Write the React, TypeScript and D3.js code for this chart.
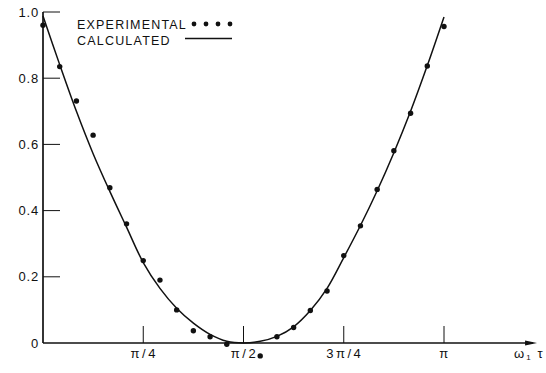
import * as d3 from "d3";

// x values are in units of pi, y is the normalised signal
const expX = [0, 1 / 24, 2 / 24, 3 / 24, 4 / 24, 5 / 24, 6 / 24, 7 / 24, 8 / 24, 9 / 24, 10 / 24, 11 / 24,
    13 / 24, 14 / 24, 15 / 24, 16 / 24, 17 / 24, 18 / 24, 19 / 24, 20 / 24, 21 / 24, 22 / 24, 23 / 24, 1];
const expY = [0.960, 0.835, 0.731, 0.628, 0.469, 0.360, 0.249, 0.190, 0.100, 0.037, 0.019, -0.004,
    -0.039, 0.019, 0.047, 0.098, 0.157, 0.264, 0.354, 0.464, 0.581, 0.694, 0.837, 0.956];

const calcX = [0, 1 / 24, 2 / 24, 3 / 24, 4 / 24, 5 / 24, 6 / 24, 7 / 24, 8 / 24, 9 / 24, 10 / 24, 11 / 24, 12 / 24,
    13 / 24, 14 / 24, 15 / 24, 16 / 24, 17 / 24, 18 / 24, 19 / 24, 20 / 24, 21 / 24, 22 / 24, 23 / 24, 1];
const calcY = [0.988, 0.841, 0.700, 0.572, 0.458, 0.350, 0.243, 0.165, 0.105, 0.060, 0.026, 0.005, 0.0,
    0.005, 0.020, 0.049, 0.098, 0.165, 0.258, 0.355, 0.460, 0.575, 0.700, 0.838, 0.985];

const yTicks = [0, 0.2, 0.4, 0.6, 0.8, 1.0];
const yTickLabels = ["0", "0.2", "0.4", "0.6", "0.8", "1.0"];
const xTicks = [0.25, 0.5, 0.75, 1];
const xTickLabels = ["\u03c0/4", "\u03c0/2", "3\u03c0/4", "\u03c0"];

const W = 546;
const H = 373;
const font = "'Liberation Sans', Arial, sans-serif";

export default function App() {
    const x = d3.scaleLinear().domain([0, 1]).range([43, 444]);
    const y = d3.scaleLinear().domain([0, 1]).range([343, 12]);
    const xEnd = x(1.232);

    const line = d3.line<number>()
        .x((_, i) => x(calcX[i]))
        .y(d => y(d))
        .curve(d3.curveCatmullRom);

    return (
        <svg width={W} height={H} style={{ position: "absolute", left: 0, top: 0, background: "#fff" }}>
            {/* axes */}
            <line x1={x(0)} y1={y(1)} x2={x(0)} y2={y(0)} stroke="#111" strokeWidth={1.7} />
            <line x1={x(0)} y1={y(0)} x2={xEnd - 4} y2={y(0)} stroke="#111" strokeWidth={1.7} />
            <path d={`M${xEnd},${y(0)} L${xEnd - 12},${y(0) - 2.5} L${xEnd - 12},${y(0) + 2.5} Z`} fill="#111" />

            {yTicks.map((t, i) => (
                <g key={i}>
                    {t > 0 && <line x1={x(0)} x2={x(0) + 17} y1={y(t)} y2={y(t)} stroke="#111" strokeWidth={1} />}
                    <text x={39} y={y(t) + 4.5} textAnchor="end" fontFamily={font} fontSize={13}
                        letterSpacing={0.8} fill="#111">
                        {yTickLabels[i]}
                    </text>
                </g>
            ))}
            {xTicks.map((t, i) => (
                <g key={i}>
                    <line x1={x(t)} x2={x(t)} y1={y(0)} y2={y(0) - 17} stroke="#111" strokeWidth={1} />
                    <text x={x(t) + 1} y={358} textAnchor="middle" fontFamily={font} fontSize={13}
                        letterSpacing={2.5} fill="#111">
                        {xTickLabels[i]}
                    </text>
                </g>
            ))}
            <text x={514} y={358} fontFamily={font} fontSize={13} fill="#111">
                {"\u03c9"}
                <tspan fontSize={8} dy={2} dx={2}>1</tspan>
                <tspan dy={-2} dx={7}>{"\u03c4"}</tspan>
            </text>

            {/* calculated curve */}
            <path d={line(calcY) ?? ""} fill="none" stroke="#111" strokeWidth={1.5} />

            {/* experimental points */}
            {expY.map((v, i) => (
                <circle key={i} cx={x(expX[i])} cy={y(v)} r={2.7} fill="#111" />
            ))}

            {/* legend */}
            <text x={77} y={29} fontFamily={font} fontSize={12.5} letterSpacing={1.2} fill="#111">EXPERIMENTAL</text>
            {[0, 1, 2, 3].map(i => (
                <circle key={i} cx={194 + i * 12} cy={24} r={2.4} fill="#111" />
            ))}
            <text x={77} y={45} fontFamily={font} fontSize={12.5} letterSpacing={1.2} fill="#111">CALCULATED</text>
            <line x1={185} x2={232} y1={38.5} y2={38.5} stroke="#111" strokeWidth={1.3} />
        </svg>
    );
}
